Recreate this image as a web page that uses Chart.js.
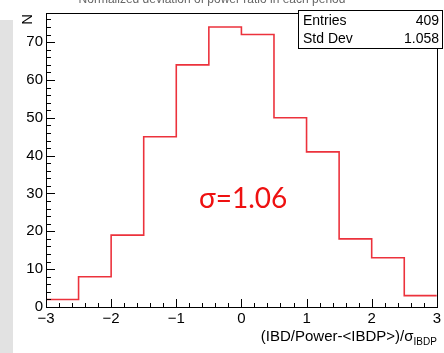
<!DOCTYPE html>
<html>
<head>
<meta charset="utf-8">
<script src="https://cdn.jsdelivr.net/npm/chart.js@4/dist/chart.umd.min.js"></script>
<style>
  html, body { margin: 0; padding: 0; background: #fff; }
  #wrap { width: 444px; height: 353px; position: relative; }
</style>
</head>
<body>
<div id="wrap"><canvas id="histo"></canvas></div>
<script>
// histogram data (bin edges + counts)
const binEdges = [-3, -2.5, -2, -1.5, -1, -0.5, 0, 0.5, 1, 1.5, 2, 2.5, 3];
const binCounts = [2, 8, 19, 45, 64, 74, 72, 50, 41, 18, 13, 3];
const xTicks = [-3, -2, -1, 0, 1, 2, 3];
const yTicks = [0, 10, 20, 30, 40, 50, 60, 70];
const statLabels = ['Entries', 'Std Dev'];
const statValues = ['409', '1.058'];
const sigmaText = 'σ=1.06';

const FONT = '"Liberation Sans", Arial, sans-serif';

// stepped line through the bin edges, last count repeated to close the final bin
const histPoints = binEdges.map((x, i) => ({ x: x, y: binCounts[Math.min(i, binCounts.length - 1)] }));

const rootStyle = {
    id: 'rootStyle',
    beforeDraw(chart) {
        const ctx = chart.ctx;
        ctx.save();
        ctx.fillStyle = '#fff';
        ctx.fillRect(0, 0, chart.width, chart.height);
        // slide background strip on the left
        ctx.fillStyle = '#e2e2e2';
        ctx.fillRect(0, 20, 13, chart.height - 20);
        // clipped title at the very top
        ctx.fillStyle = '#666';
        ctx.font = '12px ' + FONT;
        ctx.textAlign = 'center';
        ctx.textBaseline = 'alphabetic';
        ctx.fillText('Normalized deviation of power ratio in each period', 212, 3);
        ctx.restore();
    },
    afterDatasetsDraw(chart) {
        const ctx = chart.ctx;
        const a = chart.chartArea;
        const xs = chart.scales.x, ys = chart.scales.y;
        ctx.save();
        ctx.strokeStyle = '#000';
        ctx.lineWidth = 1;
        ctx.strokeRect(Math.round(a.left) + 0.5, Math.round(a.top) + 0.5,
            Math.round(a.right - a.left), Math.round(a.bottom - a.top));

        // y ticks inside the frame: major every 10, minor every 2
        ctx.beginPath();
        for (let v = 0; v <= ys.max; v += 2) {
            const py = Math.round(ys.getPixelForValue(v)) + 0.5;
            const len = v % 10 === 0 ? 9 : 5;
            ctx.moveTo(a.left, py);
            ctx.lineTo(a.left + len, py);
        }
        // x ticks: major every 1, minor every 0.2
        for (let k = 0; k <= 30; k++) {
            const v = -3 + k * 0.2;
            const px = Math.round(xs.getPixelForValue(v)) + 0.5;
            const len = k % 5 === 0 ? 8 : 4;
            ctx.moveTo(px, a.bottom);
            ctx.lineTo(px, a.bottom - len);
        }
        ctx.stroke();

        // axis titles
        ctx.fillStyle = '#000';
        ctx.textBaseline = 'alphabetic';
        ctx.textAlign = 'right';
        const sub = 'IBDP';
        ctx.font = '10px ' + FONT;
        const subW = ctx.measureText(sub).width;
        ctx.fillText(sub, a.right, 345);
        ctx.font = '15px ' + FONT;
        ctx.fillText('(IBD/Power-<IBDP>)/σ', a.right - subW, 341);

        ctx.save();
        ctx.translate(28, 14);
        ctx.rotate(-Math.PI / 2);
        ctx.textAlign = 'right';
        ctx.textBaseline = 'middle';
        ctx.fillText('N', 0, 0);
        ctx.restore();

        // stats box
        ctx.fillStyle = '#fff';
        ctx.fillRect(298, 10, 145, 38);
        ctx.strokeRect(298.5, 10.5, 144, 38);
        ctx.fillStyle = '#000';
        ctx.font = '14px ' + FONT;
        statLabels.forEach((lab, i) => {
            const by = 25 + i * 18;
            ctx.textAlign = 'left';
            ctx.fillText(lab, 303, by);
            ctx.textAlign = 'right';
            ctx.fillText(statValues[i], 439, by);
        });

        // sigma annotation
        ctx.fillStyle = '#ee1111';
        ctx.font = '28px Lato, "Open Sans", sans-serif';
        ctx.textAlign = 'left';
        ctx.fillText(sigmaText, 199, 208);
        ctx.restore();
    }
};

const ctx = document.getElementById('histo');
new Chart(ctx, {
    type: 'line',
    data: {
        datasets: [{
            data: histPoints,
            stepped: 'before',
            borderColor: 'rgb(236, 50, 60)',
            borderWidth: 1.6,
            pointRadius: 0,
            fill: false
        }]
    },
    options: {
        responsive: true,
        maintainAspectRatio: false,
        animation: false,
        layout: { padding: { top: 13, right: 5, left: 0, bottom: 0 } },
        plugins: { legend: { display: false }, tooltip: { enabled: false } },
        scales: {
            x: {
                type: 'linear',
                min: -3,
                max: 3,
                afterFit: (s) => { s.height = 46; },
                afterBuildTicks: (s) => { s.ticks = xTicks.map(v => ({ value: v })); },
                grid: { display: false, drawTicks: false },
                border: { display: false },
                ticks: {
                    padding: 3,
                    color: '#000',
                    font: { family: FONT, size: 15 },
                    maxRotation: 0,
                    callback: (v) => String(v).replace('-', '\u2212')
                }
            },
            y: {
                min: 0,
                max: 77.7,
                afterFit: (s) => { s.width = 46; },
                afterBuildTicks: (s) => { s.ticks = yTicks.map(v => ({ value: v })); },
                grid: { display: false, drawTicks: false },
                border: { display: false },
                ticks: {
                    padding: 3,
                    color: '#000',
                    font: { family: FONT, size: 15 }
                }
            }
        }
    },
    plugins: [rootStyle]
});
</script>
</body>
</html>
